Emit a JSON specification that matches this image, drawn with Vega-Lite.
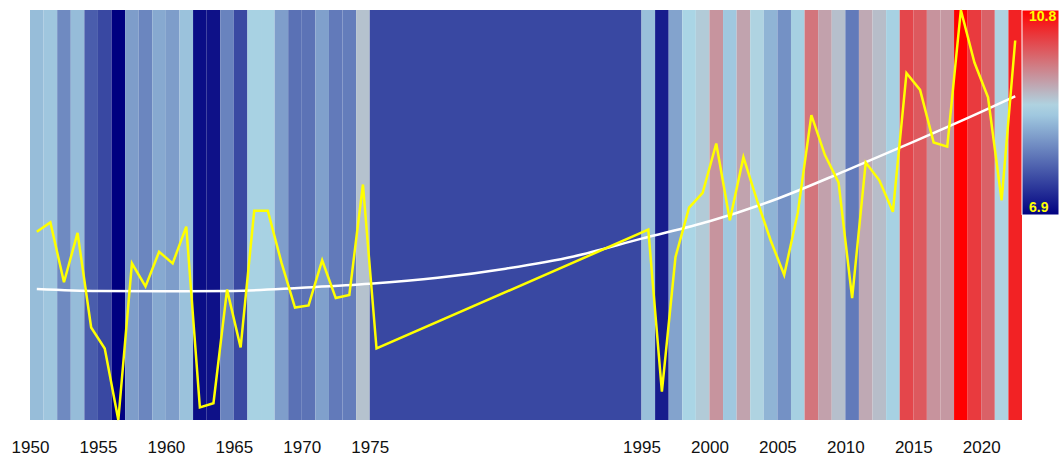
{
  "$schema": "https://vega.github.io/schema/vega-lite/v6.json",
  "width": 992,
  "height": 410,
  "autosize": {"type": "none"},
  "padding": {"left": 30, "top": 10, "right": 39, "bottom": 38},
  "background": "white",
  "config": {"view": {"stroke": null}},
  "datasets": {
    "temps": [
      {"year": 1950, "temp": 8.69}, {"year": 1951, "temp": 8.78}, {"year": 1952, "temp": 8.21},
      {"year": 1953, "temp": 8.68}, {"year": 1954, "temp": 7.78}, {"year": 1955, "temp": 7.58},
      {"year": 1956, "temp": 6.90}, {"year": 1957, "temp": 8.39}, {"year": 1958, "temp": 8.17},
      {"year": 1959, "temp": 8.50}, {"year": 1960, "temp": 8.39}, {"year": 1961, "temp": 8.74},
      {"year": 1962, "temp": 7.02}, {"year": 1963, "temp": 7.06}, {"year": 1964, "temp": 8.14},
      {"year": 1965, "temp": 7.59}, {"year": 1966, "temp": 8.89}, {"year": 1967, "temp": 8.89},
      {"year": 1968, "temp": 8.40}, {"year": 1969, "temp": 7.97}, {"year": 1970, "temp": 7.99},
      {"year": 1971, "temp": 8.42}, {"year": 1972, "temp": 8.06}, {"year": 1973, "temp": 8.09},
      {"year": 1974, "temp": 9.14}, {"year": 1975, "temp": 7.58},
      {"year": 1995, "temp": 8.71}, {"year": 1996, "temp": 7.17}, {"year": 1997, "temp": 8.45},
      {"year": 1998, "temp": 8.92}, {"year": 1999, "temp": 9.06}, {"year": 2000, "temp": 9.53},
      {"year": 2001, "temp": 8.80}, {"year": 2002, "temp": 9.40}, {"year": 2003, "temp": 8.99},
      {"year": 2004, "temp": 8.61}, {"year": 2005, "temp": 8.28}, {"year": 2006, "temp": 8.87},
      {"year": 2007, "temp": 9.80}, {"year": 2008, "temp": 9.42}, {"year": 2009, "temp": 9.16},
      {"year": 2010, "temp": 8.06}, {"year": 2011, "temp": 9.35}, {"year": 2012, "temp": 9.18},
      {"year": 2013, "temp": 8.88}, {"year": 2014, "temp": 10.20}, {"year": 2015, "temp": 10.04},
      {"year": 2016, "temp": 9.54}, {"year": 2017, "temp": 9.50}, {"year": 2018, "temp": 10.80},
      {"year": 2019, "temp": 10.30}, {"year": 2020, "temp": 9.97}, {"year": 2021, "temp": 8.99},
      {"year": 2022, "temp": 10.51}
    ],
    "trend": [
      {"year": 1950.5, "temp": 8.146}, {"year": 1955, "temp": 8.127}, {"year": 1960, "temp": 8.124},
      {"year": 1965, "temp": 8.128}, {"year": 1970, "temp": 8.158}, {"year": 1975, "temp": 8.195},
      {"year": 1980, "temp": 8.252}, {"year": 1985, "temp": 8.339}, {"year": 1990, "temp": 8.455},
      {"year": 1995, "temp": 8.625}, {"year": 2000, "temp": 8.79}, {"year": 2005, "temp": 9.005},
      {"year": 2010, "temp": 9.27}, {"year": 2015, "temp": 9.545}, {"year": 2020, "temp": 9.83},
      {"year": 2022.5, "temp": 9.98}
    ]
  },
  "layer": [
    {
      "data": {"name": "temps"},
      "transform": [
        {"window": [{"op": "lead", "field": "year", "as": "next"}], "sort": [{"field": "year"}]},
        {"calculate": "isValid(datum.next) ? datum.next : datum.year + 1", "as": "end"}
      ],
      "mark": {"type": "rect"},
      "encoding": {
        "x": {
          "field": "year",
          "type": "quantitative",
          "scale": {"domain": [1950, 2023], "nice": false, "zero": false},
          "axis": {
            "values": [1950, 1955, 1960, 1965, 1970, 1975, 1995, 2000, 2005, 2010, 2015, 2020],
            "format": "d",
            "title": null,
            "ticks": false,
            "domain": false,
            "grid": false,
            "labelFont": "Liberation Sans",
            "labelFontSize": 17,
            "labelColor": "#111111",
            "labelPadding": 19,
            "labelFlush": false,
            "labelOverlap": false
          }
        },
        "x2": {"field": "end"},
        "color": {
          "field": "temp",
          "type": "quantitative",
          "scale": {
            "domain": [6.9, 8.95, 10.8],
            "range": ["#000080", "#ADD8E6", "#FF0000"],
            "interpolate": "rgb"
          },
          "legend": {
            "orient": "none",
            "legendX": 992,
            "legendY": 0,
            "direction": "vertical",
            "title": null,
            "padding": 0,
            "gradientLength": 205,
            "gradientThickness": 37,
            "gradientStrokeColor": "#ffffff",
            "gradientStrokeWidth": 1,
            "values": [6.9, 10.8],
            "format": ".1f",
            "labelColor": "#FFFF00",
            "labelFont": "Liberation Sans",
            "labelFontWeight": "bold",
            "labelFontSize": 14,
            "labelOffset": -30,
            "labelOverlap": false
          }
        }
      }
    },
    {
      "data": {"name": "trend"},
      "mark": {"type": "line", "color": "#FFFFFF", "strokeWidth": 2.5, "interpolate": "monotone"},
      "encoding": {
        "x": {"field": "year", "type": "quantitative"},
        "y": {"field": "temp", "type": "quantitative", "scale": {"domain": [6.9, 10.8], "nice": false, "zero": false}, "axis": null}
      }
    },
    {
      "data": {"name": "temps"},
      "transform": [{"calculate": "datum.year + 0.5", "as": "mid"}],
      "mark": {"type": "line", "color": "#FFFF00", "strokeWidth": 2.5},
      "encoding": {
        "x": {"field": "mid", "type": "quantitative"},
        "y": {"field": "temp", "type": "quantitative"}
      }
    }
  ]
}
